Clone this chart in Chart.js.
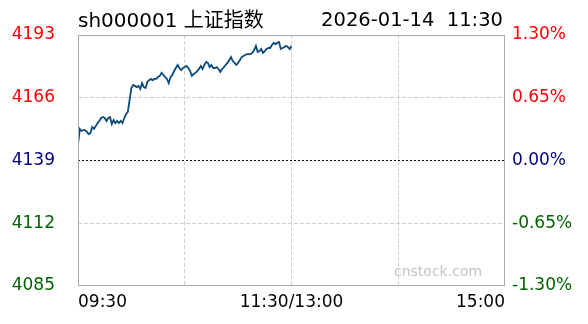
<!DOCTYPE html>
<html lang="zh">
<head>
    <meta charset="UTF-8">
    <title>sh000001 上证指数</title>
    <style>
        body {
            margin: 0;
            padding: 0;
            background-color: #ffffff;
            font-family: 'DejaVu Sans', 'Noto Sans CJK SC', sans-serif;
        }

        .wrap {
            position: relative;
            width: 588px;
            height: 324px;
        }

        .titulo {
            position: absolute;
            left: 78px;
            top: 10px;
            font-size: 20px;
            line-height: 20px;
            color: #000;
        }

        .data-hora {
            position: absolute;
            right: 85px;
            top: 10px;
            font-size: 19.5px;
            line-height: 20px;
            color: #000;
            white-space: pre;
        }

        .marca {
            position: absolute;
            left: 394px;
            top: 264px;
            font-size: 14px;
            line-height: 14px;
            color: #c4c4c4;
        }
    </style>
</head>
<body>
    <div class="wrap">
        <canvas id="grafico" width="588" height="324"></canvas>
        <div class="titulo">sh000001 上证指数</div>
        <div class="data-hora">2026-01-14  11:30</div>
        <div class="marca">cnstock.com</div>
    </div>

    <script src="https://cdn.jsdelivr.net/npm/chart.js"></script>
    <script>
        // fechamento anterior e faixas dos eixos
        var prevClose = 4139;
        var priceTicks = [4085, 4112, 4139, 4166, 4193];
        var pctTicks = [-1.30, -0.65, 0.00, 0.65, 1.30];
        var timeTicks = [0, 60, 120, 180, 240];
        var timeLabels = ['09:30', '', '11:30/13:00', '', '15:00'];

        // preço por minuto, 09:30 até 11:30
        var prices = [
            4145.7, 4152.6, 4151.7, 4152.1, 4152.1, 4151.3, 4150.4, 4150.8, 4153.4, 4152.6,
            4153.8, 4155.1, 4156.0, 4157.3, 4157.7, 4157.3, 4156.0, 4157.3, 4157.7, 4154.7,
            4156.4, 4155.1, 4156.0, 4155.1, 4156.0, 4155.1, 4157.3, 4159.0, 4159.9, 4165.0,
            4170.2, 4171.5, 4171.1, 4170.6, 4171.1, 4169.8, 4172.3, 4170.6, 4170.2, 4172.8,
            4173.6, 4174.1, 4173.6, 4174.1, 4174.1, 4174.9, 4175.4, 4176.7, 4175.8, 4174.9,
            4174.1, 4172.3, 4174.9, 4175.8, 4177.5, 4178.8, 4180.1, 4178.8, 4177.9, 4178.8,
            4179.2, 4179.7, 4178.8, 4177.5, 4175.4, 4176.2, 4176.7, 4177.5, 4178.4, 4179.7,
            4178.4, 4180.1, 4181.4, 4181.0, 4179.2, 4180.1, 4178.8, 4178.8, 4179.2, 4178.4,
            4177.1, 4178.4, 4179.2, 4180.1, 4181.0, 4182.2, 4183.5, 4181.8, 4181.0, 4180.1,
            4181.0, 4182.2, 4183.5, 4184.0, 4184.4, 4184.8, 4184.8, 4184.8, 4185.3, 4186.5,
            4188.3, 4185.7, 4186.1, 4187.0, 4185.3, 4186.1, 4187.0, 4187.4, 4187.4, 4188.7,
            4189.6, 4189.1, 4189.6, 4190.0, 4187.0, 4187.4, 4187.8, 4188.3, 4187.8, 4187.0,
            4188.3
        ];

        var corAlta = '#ff0000';
        var corNeutra = '#000080';
        var corBaixa = '#006400';

        function corPorValor(v, ref) {
            if (Math.abs(v - ref) < 1e-6) return corNeutra;
            return v > ref ? corAlta : corBaixa;
        }

        var pontos = prices.map(function (p, i) {
            return { x: i, y: p };
        });

        // moldura da área do gráfico
        var moldura = {
            id: 'moldura',
            afterDraw: function (chart) {
                var a = chart.chartArea;
                var ctx = chart.ctx;
                ctx.save();
                ctx.strokeStyle = '#aaaaaa';
                ctx.lineWidth = 1;
                ctx.strokeRect(a.left + 0.5, a.top + 0.5, a.right - a.left - 1, a.bottom - a.top - 1);
                ctx.restore();
            }
        };

        var ctx = document.getElementById('grafico').getContext('2d');
        var grafico = new Chart(ctx, {
            type: 'line',
            data: {
                datasets: [{
                    data: pontos,
                    borderColor: '#0b4a7d',
                    borderWidth: 1.8,
                    pointRadius: 0,
                    tension: 0,
                    fill: false,
                    yAxisID: 'y'
                }]
            },
            options: {
                responsive: false,
                animation: false,
                layout: { padding: { top: 35, left: 0, right: 0, bottom: 0 } },
                plugins: {
                    legend: { display: false },
                    tooltip: { enabled: false }
                },
                scales: {
                    x: {
                        type: 'linear',
                        min: 0,
                        max: 240,
                        afterBuildTicks: function (s) {
                            s.ticks = timeTicks.map(function (v) { return { value: v }; });
                        },
                        afterFit: function (s) { s.height = 38; },
                        ticks: {
                            autoSkip: false,
                            maxRotation: 0,
                            align: 'inner',
                            padding: 6,
                            color: '#000000',
                            font: { family: 'DejaVu Sans', size: 17 },
                            callback: function (v, i) { return timeLabels[i]; }
                        },
                        grid: {
                            drawTicks: false,
                            color: function (c) {
                                return (c.index === 0 || c.index === timeTicks.length - 1) ? 'rgba(0,0,0,0)' : '#d0d0d0';
                            },
                            lineWidth: 1
                        },
                        border: { display: false, dash: [4, 2] }
                    },
                    y: {
                        position: 'left',
                        min: priceTicks[0],
                        max: priceTicks[priceTicks.length - 1],
                        afterBuildTicks: function (s) {
                            s.ticks = priceTicks.map(function (v) { return { value: v }; });
                        },
                        afterFit: function (s) { s.width = 78; },
                        ticks: {
                            padding: 23,
                            font: { family: 'DejaVu Sans', size: 17 },
                            color: function (c) { return corPorValor(c.tick.value, prevClose); },
                            callback: function (v) { return String(v); }
                        },
                        grid: {
                            drawTicks: false,
                            color: function (c) {
                                if (c.index === 0 || c.index === priceTicks.length - 1) return 'rgba(0,0,0,0)';
                                return c.tick && c.tick.value === prevClose ? '#000000' : '#d0d0d0';
                            },
                            lineWidth: 1
                        },
                        border: {
                            display: false,
                            dash: function (c) {
                                return c.tick && c.tick.value === prevClose ? [2, 2] : [4, 2];
                            }
                        }
                    },
                    y2: {
                        position: 'right',
                        min: pctTicks[0],
                        max: pctTicks[pctTicks.length - 1],
                        afterBuildTicks: function (s) {
                            s.ticks = pctTicks.map(function (v) { return { value: v }; });
                        },
                        afterFit: function (s) { s.width = 83; },
                        ticks: {
                            padding: 7,
                            font: { family: 'DejaVu Sans', size: 17 },
                            color: function (c) { return corPorValor(c.tick.value, 0); },
                            callback: function (v) { return v.toFixed(2) + '%'; }
                        },
                        grid: { drawOnChartArea: false, drawTicks: false },
                        border: { display: false }
                    }
                }
            },
            plugins: [moldura]
        });
    </script>
</body>
</html>
